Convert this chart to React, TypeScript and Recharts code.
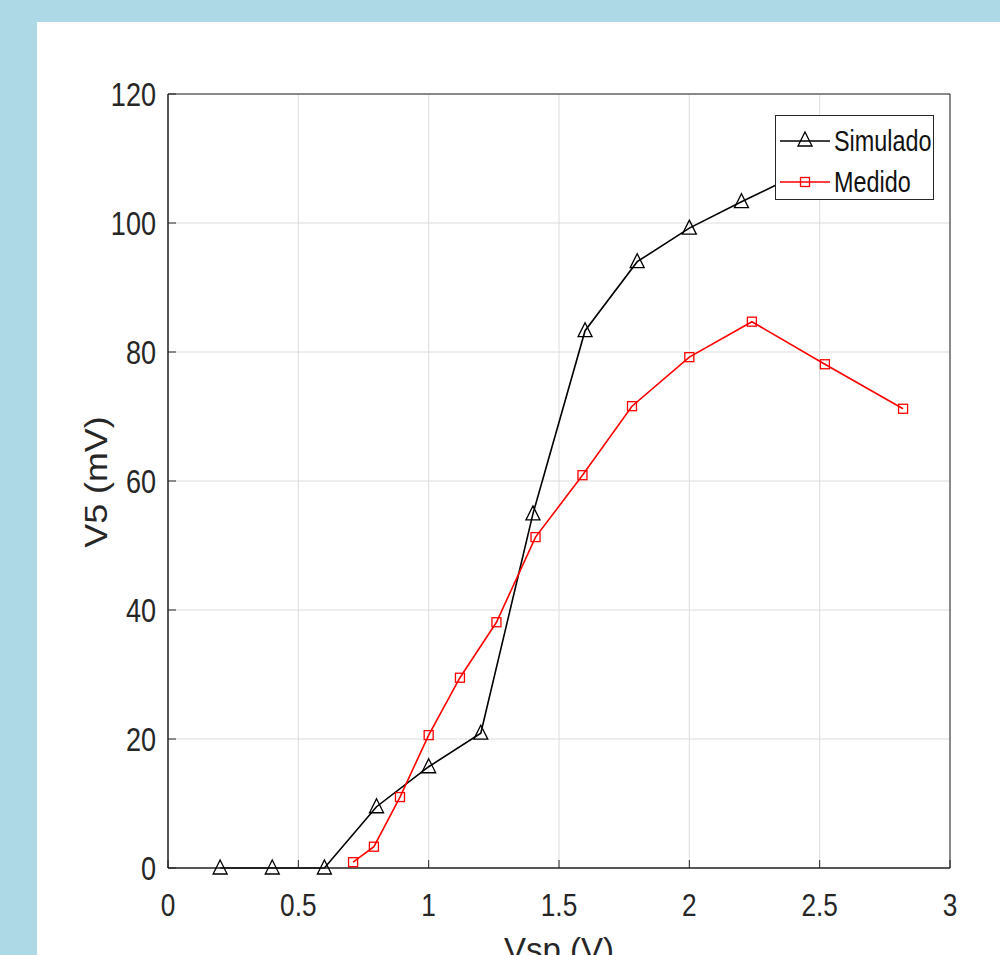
import React from 'react';
import {
  LineChart,
  Line,
  XAxis,
  YAxis,
  CartesianGrid,
  ReferenceArea,
} from 'recharts';

// Simulado (black, triangles)
const simX = [0.2, 0.4, 0.6, 0.8, 1.0, 1.2, 1.4, 1.6, 1.8, 2.0, 2.2, 2.4];
const simY = [0, 0, 0, 9.5, 15.7, 20.9, 54.9, 83.3, 94.0, 99.2, 103.3, 107.2];

// Medido (red, squares)
const medX = [0.71, 0.79, 0.89, 1.0, 1.12, 1.26, 1.41, 1.59, 1.78, 2.0, 2.24, 2.52, 2.82];
const medY = [0.9, 3.3, 11.0, 20.6, 29.5, 38.1, 51.3, 60.9, 71.6, 79.2, 84.7, 78.1, 71.2];

const xTicks = [0, 0.5, 1, 1.5, 2, 2.5, 3];
const yTicks = [0, 20, 40, 60, 80, 100, 120];

const simData = simX.map((x, i) => ({ x, y: simY[i] }));
const medData = medX.map((x, i) => ({ x, y: medY[i] }));

const AXIS = '#262626';
const GRID = '#dcdcdc';
const TICK_FONT = '"Liberation Sans Narrow", "Liberation Sans", Arial, sans-serif';

const Triangle = ({ cx, cy }: any) => {
  if (cx == null || cy == null) return null;
  return (
    <path
      d={`M${cx},${cy - 8} L${cx + 7},${cy + 6} L${cx - 7},${cy + 6} Z`}
      fill="none"
      stroke="#000"
      strokeWidth={1.3}
    />
  );
};

const Square = ({ cx, cy }: any) => {
  if (cx == null || cy == null) return null;
  return (
    <rect x={cx - 4.5} y={cy - 4.5} width={9} height={9} fill="none" stroke="#ff0000" strokeWidth={1.3} />
  );
};

const BottomTick = ({ x, y, payload }: any) => (
  <g>
    <line x1={x} y1={y} x2={x} y2={y - 8} stroke={AXIS} strokeWidth={1} />
    <text
      transform={`translate(${x},${y + 48}) scale(0.82,1)`}
      textAnchor="middle"
      fontFamily={TICK_FONT}
      fontSize={32}
      fill="#262626"
    >
      {payload.value}
    </text>
  </g>
);

const LeftTick = ({ x, y, payload }: any) => (
  <g>
    <line x1={x} y1={y} x2={x + 8} y2={y} stroke={AXIS} strokeWidth={1} />
    <text
      transform={`translate(${x - 12},${y + 12}) scale(0.82,1)`}
      textAnchor="end"
      fontFamily={TICK_FONT}
      fontSize={33}
      fill="#262626"
    >
      {payload.value}
    </text>
  </g>
);

const TopTick = ({ x, y }: any) => (
  <line x1={x} y1={y} x2={x} y2={y + 8} stroke={AXIS} strokeWidth={1} />
);

const RightTick = ({ x, y }: any) => (
  <line x1={x} y1={y} x2={x - 8} y2={y} stroke={AXIS} strokeWidth={1} />
);

const legendItems = [
  { name: 'Simulado', color: '#000', marker: 'tri' },
  { name: 'Medido', color: '#ff0000', marker: 'sq' },
];

const LegendBox = () => (
  <svg width={160} height={86} style={{ display: 'block' }}>
    <rect x={0.5} y={0.5} width={158} height={84} fill="#fff" stroke={AXIS} strokeWidth={1} />
    {legendItems.map((it, i) => {
      const cy = 26 + i * 41;
      return (
        <g key={it.name}>
          <line x1={5} y1={cy} x2={55} y2={cy} stroke={it.color} strokeWidth={1.6} />
          {it.marker === 'tri' ? <Triangle cx={30} cy={cy - 1} /> : <Square cx={30} cy={cy} />}
          <text
            transform={`translate(59,${cy + 10}) scale(0.78,1)`}
            fontFamily={TICK_FONT}
            fontSize={30}
            fill="#111"
          >
            {it.name}
          </text>
        </g>
      );
    })}
  </svg>
);

export default function App() {
  return (
    <div
      style={{
        position: 'fixed',
        left: 0,
        top: 0,
        width: 1000,
        height: 955,
        background: '#add8e6',
        overflow: 'hidden',
      }}
    >
      <div
        style={{ position: 'absolute', left: 37, top: 22, width: 963, height: 933, background: '#fff' }}
      />
      <div style={{ position: 'absolute', left: 0, top: 0 }}>
        <LineChart width={1000} height={955} margin={{ top: 94, right: 50, left: 0, bottom: 0 }}>
          <CartesianGrid
            xAxisId="b"
            yAxisId="l"
            stroke={GRID}
            strokeWidth={1}
            horizontalPoints={undefined}
          />
          <XAxis
            xAxisId="b"
            dataKey="x"
            type="number"
            domain={[0, 3]}
            ticks={xTicks}
            allowDataOverflow
            height={87}
            axisLine={{ stroke: AXIS }}
            tickLine={false}
            tickSize={0}
            tickMargin={0}
            tick={<BottomTick />}
            interval={0}
            label={{
              content: () => (
                <text
                  x={559}
                  y={961}
                  textAnchor="middle"
                  fontFamily='"Liberation Sans", Arial, sans-serif'
                  fontSize={33}
                  fill="#262626"
                >
                  Vsp (V)
                </text>
              ),
            }}
          />
          <XAxis
            xAxisId="t"
            dataKey="x"
            type="number"
            orientation="top"
            domain={[0, 3]}
            ticks={xTicks}
            height={0}
            axisLine={false}
            tickLine={false}
            tickSize={0}
            tickMargin={0}
            tick={<TopTick />}
            interval={0}
          />
          <YAxis
            yAxisId="l"
            type="number"
            domain={[0, 120]}
            ticks={yTicks}
            width={168}
            axisLine={{ stroke: AXIS }}
            tickLine={false}
            tickSize={0}
            tickMargin={0}
            tick={<LeftTick />}
            interval={0}
            label={{
              content: () => (
                <text
                  transform="translate(107,482) rotate(-90) scale(1.12,1)"
                  textAnchor="middle"
                  fontFamily='"Liberation Sans", Arial, sans-serif'
                  fontSize={32}
                  fill="#262626"
                >
                  V5 (mV)
                </text>
              ),
            }}
          />
          <YAxis
            yAxisId="r"
            type="number"
            orientation="right"
            domain={[0, 120]}
            ticks={yTicks}
            width={0}
            axisLine={false}
            tickLine={false}
            tickSize={0}
            tickMargin={0}
            tick={<RightTick />}
            interval={0}
          />
          <ReferenceArea
            xAxisId="b"
            yAxisId="l"
            x1={0}
            x2={3}
            y1={0}
            y2={120}
            fill="none"
            fillOpacity={0}
            stroke={AXIS}
            strokeWidth={1}
            ifOverflow="visible"
          />
          <Line
            xAxisId="b"
            yAxisId="l"
            data={simData}
            dataKey="y"
            name="Simulado"
            stroke="#000"
            strokeWidth={1.6}
            dot={<Triangle />}
            activeDot={false}
            isAnimationActive={false}
          />
          <Line
            xAxisId="b"
            yAxisId="l"
            data={medData}
            dataKey="y"
            name="Medido"
            stroke="#ff0000"
            strokeWidth={1.6}
            dot={<Square />}
            activeDot={false}
            isAnimationActive={false}
          />
        </LineChart>
      </div>
      <div style={{ position: 'absolute', left: 775, top: 115 }}>
        <LegendBox />
      </div>
    </div>
  );
}
